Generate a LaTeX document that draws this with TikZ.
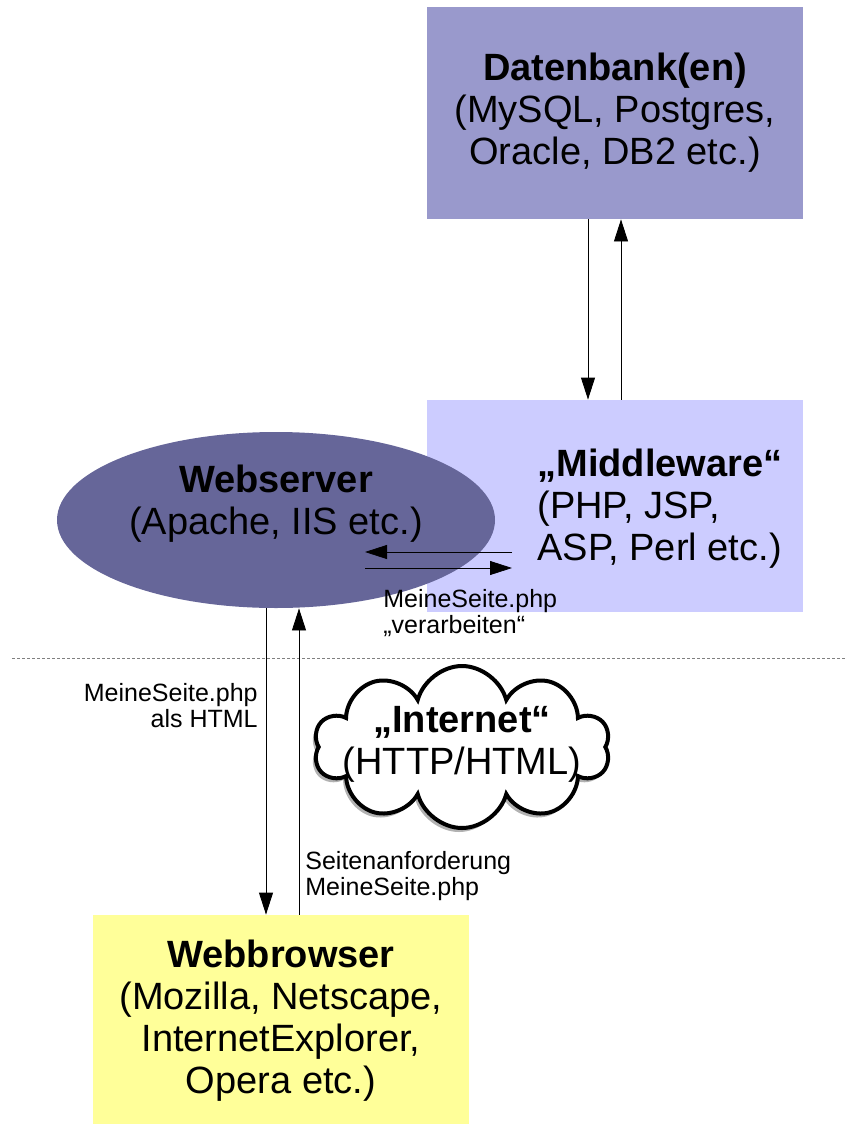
\documentclass[tikz,border=0pt]{standalone}
\usepackage{fontspec}
\setmainfont{Liberation Sans}
\usetikzlibrary{positioning,arrows.meta,shapes.geometric,shapes.symbols,shadows}
\definecolor{dbcol}{RGB}{153,153,204}
\definecolor{mwcol}{RGB}{204,204,255}
\definecolor{wscol}{RGB}{102,102,153}
\definecolor{wbcol}{RGB}{255,255,153}
\newcommand{\bigfont}{\fontsize{19pt}{21pt}\selectfont}
\newcommand{\smallfont}{\fontsize{12.5pt}{13pt}\selectfont}

\begin{document}
\begin{tikzpicture}[x=0.5pt,y=-0.5pt,>={Stealth[length=11pt,width=7pt,inset=0pt]},
        box/.style={rectangle,minimum width=188pt,minimum height=106pt,inner sep=0pt,align=center,font=\bigfont},
        lbl/.style={inner sep=0pt,font=\smallfont}]
        \useasboundingbox (0,0) rectangle (845,1124);
        \draw[gray,dash pattern=on 1.5pt off 1pt,line width=0.4pt] (12,658) -- (845,658);
        % Kaesten und Ellipse
        \node[box,fill=dbcol] (db) at (615,113) {\textbf{Datenbank(en)}\\(MySQL, Postgres,\\Oracle, DB2 etc.)};
        \node[box,fill=mwcol] (mw) at (615,506) {};
        \node[font=\bigfont,align=left,anchor=west,inner sep=0pt] (mwtext) at (537,509) {\textbf{„Middleware“}\\(PHP, JSP,\\ASP, Perl etc.)};
        \node[ellipse,fill=wscol,minimum width=219pt,minimum height=88pt,inner sep=0pt] (ws) at (276,520) {};
        \node[font=\bigfont,align=center,inner sep=0pt] (wstext) at (276,504) {\textbf{Webserver}\\(Apache, IIS etc.)};
        \node[box,fill=wbcol,minimum height=106pt] (wb) at (281,1021) {\textbf{Webbrowser}\\(Mozilla, Netscape,\\InternetExplorer,\\Opera etc.)};
        \node[cloud,draw,line width=2pt,fill=white,cloud puffs=10,cloud ignores aspect,inner sep=0pt,
            minimum width=148pt,minimum height=81pt,
            drop shadow={shadow xshift=-1.5pt,shadow yshift=-2pt,fill=gray!60,opacity=1}] (net) at (462,747) {};
        \node[font=\bigfont,align=center,inner sep=0pt] (nettext) at (462,744) {\textbf{„Internet“}\\(HTTP/HTML)};
        % Pfeile
        \draw[->] ([xshift=-13.5pt]db.south) -- ([xshift=-13.5pt]mw.north);
        \draw[->] ([xshift=3pt]mw.north) -- ([xshift=3pt]db.south);
        \coordinate (mwa) at (512,552);
        \coordinate (wsa) at (365,552);
        \coordinate (wsb) at (365,568);
        \coordinate (mwb) at (512,568);
        \draw[->] (mwa) -- (wsa);
        \draw[->] (wsb) -- (mwb);
        \draw[->] ([xshift=-5pt]ws.south) -- ([xshift=-7.5pt]wb.north);
        \draw[->] ([xshift=9pt]wb.north) -- ([xshift=11.5pt]ws.south);
        % Beschriftungen
        \node[lbl,align=left,anchor=north west] (proc) at (383,589) {MeineSeite.php\\„verarbeiten“};
        \node[lbl,align=right,anchor=north east] (resp) at (258,683) {MeineSeite.php\\als HTML};
        \node[lbl,align=left,anchor=north west] (req) at (305,851) {Seitenanforderung\\MeineSeite.php};
\end{tikzpicture}
\end{document}
